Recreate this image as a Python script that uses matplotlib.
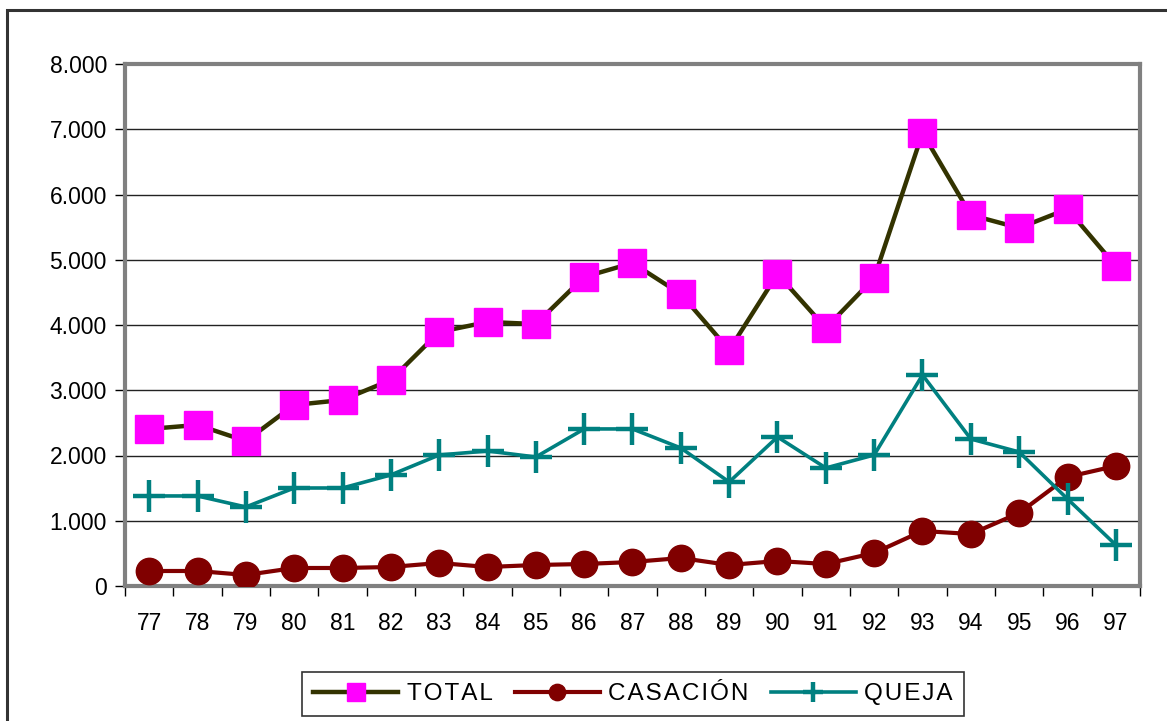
import matplotlib
matplotlib.use("Agg")
import matplotlib.pyplot as plt
from matplotlib.patches import Rectangle
from matplotlib.ticker import FuncFormatter, FixedLocator
import numpy as np

years = ["77", "78", "79", "80", "81", "82", "83", "84", "85", "86", "87",
         "88", "89", "90", "91", "92", "93", "94", "95", "96", "97"]
total = [2407, 2468, 2222, 2774, 2851, 3157, 3893, 4046, 4015, 4736, 4950,
         4475, 3617, 4782, 3954, 4720, 6943, 5686, 5487, 5778, 4904]
casacion = [230, 230, 169, 276, 276, 291, 353, 291, 322, 337, 368,
            429, 322, 383, 337, 506, 843, 797, 1119, 1671, 1840]
queja = [1380, 1380, 1211, 1502, 1502, 1702, 2008, 2069, 1977, 2407, 2407,
         2115, 1594, 2284, 1809, 2008, 3234, 2253, 2054, 1334, 629]
series_names = ["TOTAL", "CASACIÓN", "QUEJA"]

plt.rcParams['font.family'] = ['Liberation Sans', 'DejaVu Sans']

W, H = 1167, 721
fig = plt.figure(figsize=(W / 100, H / 100), dpi=100)
# figure frame (cut off at right/bottom)
fig.patches.append(Rectangle((7 / W, -0.1), 1.2, 1 - 10 / H + 0.1, transform=fig.transFigure,
                             fill=False, edgecolor='#333333', linewidth=2.2, zorder=0))

ax = fig.add_axes([125 / W, 1 - 586 / H, (1140 - 125) / W, (586 - 64) / H])
x = np.arange(len(years))

def spaced(s):
    return '\u200a'.join(s)

ax.plot(x, total, color='#333300', lw=3.2, marker='s', markersize=20,
        markerfacecolor='#FF00FF', markeredgecolor='#FF00FF', label=spaced(series_names[0]), zorder=4)
ax.plot(x, casacion, color='#800000', lw=3.0, marker='o', markersize=19,
        markerfacecolor='#800000', markeredgecolor='#800000', label=spaced(series_names[1]), zorder=3)
ax.plot(x, queja, color='#008080', lw=2.6, marker='+', markersize=23, markeredgewidth=3.2,
        label=spaced(series_names[2]), zorder=3)

ax.set_xlim(-0.5, len(years) - 0.5)
ax.set_ylim(0, 8000)
ax.set_yticks(np.arange(0, 8001, 1000))
ax.yaxis.set_major_formatter(FuncFormatter(lambda v, p: '0' if v == 0 else f"{int(v):,}".replace(',', '.')))
ax.set_xticks(x)
ax.set_xticklabels(years)
ax.xaxis.set_minor_locator(FixedLocator(np.arange(-0.5, len(years), 1.0)))
ax.tick_params(axis='x', which='major', length=0, pad=19, labelsize=16.5)
ax.tick_params(axis='x', which='minor', length=7, width=1, color='black', direction='out')
ax.tick_params(axis='y', length=7, width=1, color='black', labelsize=16.5, pad=6)
ax.grid(axis='y', color='#222222', lw=1.0, zorder=1)
ax.set_axisbelow(True)
for s in ax.spines.values():
    s.set_color('#808080')
    s.set_linewidth(3)

leg = fig.legend(loc='center', bbox_to_anchor=(633 / W, 1 - 694 / H), ncol=3,
                 frameon=True, fancybox=False, edgecolor='black', fontsize=17.5,
                 handlelength=3.5, columnspacing=0.9, handletextpad=0.35, borderpad=0.45,
                 borderaxespad=0, markerscale=0.62)
leg.get_frame().set_linewidth(1.2)

fig.savefig('out.png', dpi=100)
